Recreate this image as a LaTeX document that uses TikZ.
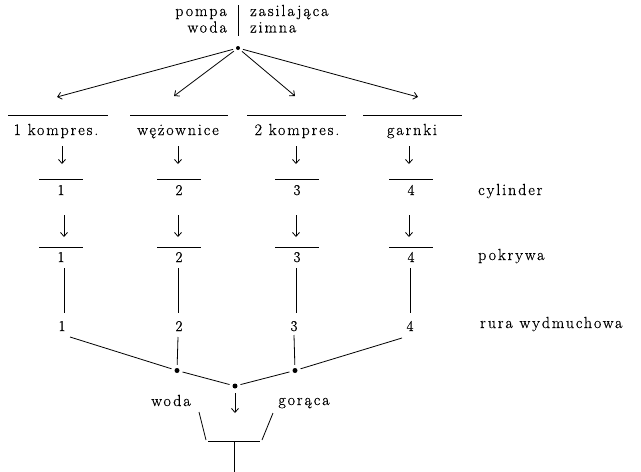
\documentclass[tikz,border=0pt]{standalone}
\usepackage{fontspec}
\setmainfont{Latin Modern Roman}
\newfontfamily\spaced[LetterSpace=12,FakeBold=0.6]{Latin Modern Roman}
\newfontfamily\digits[FakeBold=0.6]{Latin Modern Roman}
\usetikzlibrary{arrows.meta}
\begin{document}
\begin{tikzpicture}[x=1pt,y=-1pt,
  txt/.style={font=\spaced\fontsize{16}{18}\selectfont, inner sep=0pt},
  num/.style={font=\digits\fontsize{15}{17}\selectfont, inner sep=0pt},
  ln/.style={line width=0.8pt},
  arr/.style={ln, -{Straight Barb[length=4pt,width=7pt]}},
  dot/.style={circle, fill, inner sep=0pt, minimum size=5pt}]
\useasboundingbox (0,0) rectangle (641,472);
% top
\node[txt, anchor=base east] (pompa) at (227,16) {pompa};
\node[txt, anchor=base east] (woda1) at (227,32.5) {woda};
\node[txt, anchor=base west] (zas) at (250,16) {zasilająca};
\node[txt, anchor=base west] (zim) at (250,32.5) {zimna};
\coordinate (vt) at (238,5); \coordinate (vb) at (238,36);
\draw[ln] (vt) -- (vb);
\node[dot, minimum size=4pt] (src) at (238,48) {};
\coordinate (t1) at (57,97); \coordinate (t2) at (174,96);
\coordinate (t3) at (295,96); \coordinate (t4) at (418,97);
\foreach \t in {t1,t2,t3,t4} \draw[arr, shorten <=3pt] (src) -- (\t);
% labels row
\foreach \a/\b in {8/108,130/228,247/346,363/462} \draw[ln] (\a,115) -- (\b,115);
\node[txt, anchor=base] (l1) at (56,135) {1 kompres.};
\node[txt, anchor=base] (l2) at (178,135) {wężownice};
\node[txt, anchor=base] (l3) at (297,135) {2 kompres.};
\node[txt, anchor=base] (l4) at (412,135) {garnki};
% arrows 1
\foreach \x [count=\i] in {62,178,296,409} {
  \coordinate (a\i t) at (\x,146); \coordinate (a\i b) at (\x,164);
  \draw[arr] (a\i t) -- (a\i b);
}
% cylinder row
\foreach \x [count=\i] in {61,179,297,411} {
  \draw[ln] (\x-22,179) -- (\x+22,179);
  \node[num, anchor=base] (c\i) at (\x,195) {\i};
}
\node[txt, anchor=base west] (cyl) at (478,195) {cylinder};
% arrows 2
\foreach \x [count=\i] in {64,178,296,409} {
  \coordinate (b\i t) at (\x,215); \coordinate (b\i b) at (\x,237);
  \draw[arr] (b\i t) -- (b\i b);
}
% pokrywa row
\foreach \x [count=\i] in {61,179,297,411} {
  \draw[ln] (\x-22,247) -- (\x+22,247);
  \node[num, anchor=base] (p\i) at (\x,262) {\i};
}
\node[txt, anchor=base west] (pok) at (478,260) {pokrywa};
% verticals
\foreach \x [count=\i] in {64,178,296,410} {
  \coordinate (v\i t) at (\x,268); \coordinate (v\i b) at (\x,313);
  \draw[ln] (v\i t) -- (v\i b);
}
% rura row
\foreach \x [count=\i] in {62,179,294,410} {
  \node[num, anchor=base] (r\i) at (\x,331) {\i};
}
\node[txt, anchor=base west] (rura) at (480,328) {rura wydmuchowa};
% junction
\node[dot] (d2) at (177,370.5) {};
\node[dot] (d3) at (295,370.5) {};
\node[dot] (dc) at (235,386) {};
\coordinate (s1) at (70,337); \coordinate (s4) at (402,338);
\coordinate (s2) at (178,337); \coordinate (s3) at (294,335);
\draw[ln, shorten >=3pt] (s1) -- (d2);
\draw[ln, shorten >=3pt] (s4) -- (d3);
\draw[ln, shorten >=3pt] (s2) -- (d2);
\draw[ln, shorten >=3pt] (s3) -- (d3);
\draw[ln, shorten <=3pt, shorten >=3pt] (d2) -- (dc);
\draw[ln, shorten <=3pt, shorten >=3pt] (d3) -- (dc);
\coordinate (ot) at (235,393); \coordinate (ob) at (235,413);
\draw[arr] (ot) -- (ob);
\node[txt, anchor=base] (woda2) at (171,406) {woda};
\node[txt, anchor=base] (gor) at (304,405) {gorąca};
% funnel
\coordinate (f1) at (199,412); \coordinate (f2) at (206,440);
\coordinate (f3) at (273,413); \coordinate (f4) at (262,440);
\coordinate (h1) at (208,441); \coordinate (h2) at (260,441);
\coordinate (o1) at (234,442); \coordinate (o2) at (234,472);
\draw[ln] (f1) -- (f2);
\draw[ln] (f3) -- (f4);
\draw[ln] (h1) -- (h2);
\draw[ln] (o1) -- (o2);
\end{tikzpicture}
\end{document}
